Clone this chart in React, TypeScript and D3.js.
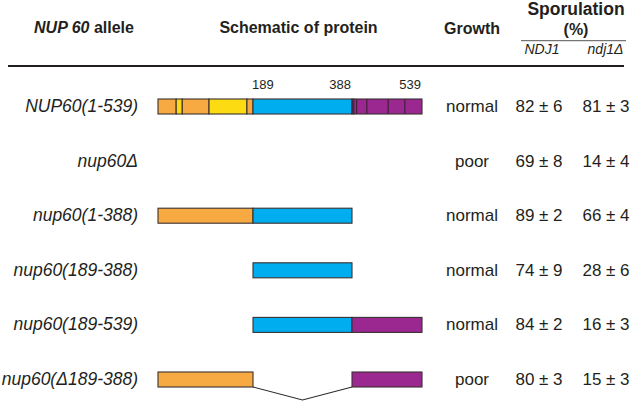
import React from "react";
import * as d3 from "d3";

const alleles = ["NUP60(1-539)", "nup60Δ", "nup60(1-388)", "nup60(189-388)", "nup60(189-539)", "nup60(Δ189-388)"];
const growth = ["normal", "poor", "normal", "normal", "normal", "poor"];
const ndj1Mean = [82, 69, 89, 74, 84, 80];
const ndj1Err = [6, 8, 2, 9, 2, 3];
const ndj1DeltaMean = [81, 14, 66, 28, 16, 15];
const ndj1DeltaErr = [3, 4, 4, 6, 3, 3];

// residue breakpoints labelled on the schematic
const residueBreaks = [1, 189, 388, 539];
const residueLabels = [189, 388, 539];

// full-length protein domains: [from, to, kind]
const fullLengthSegments: [number, number, string][] = [
  [1, 37, "N"], [37, 49, "Y"], [49, 102, "N"], [102, 177, "Y"], [177, 189, "N"],
  [189, 388, "M"], [388, 392, "D"], [392, 539, "C"],
];
const fullLengthMotifLines = [398, 420, 466, 502];

// per-allele segments
const rowSegments: [number, number, string][][] = [
  fullLengthSegments,
  [],
  [[1, 189, "N"], [189, 388, "M"]],
  [[189, 388, "M"]],
  [[189, 388, "M"], [388, 539, "C"]],
  [[1, 189, "N"], [388, 539, "C"]],
];
const rowMotifs: number[][] = [fullLengthMotifLines, [], [], [], [], []];
const rowDeletions: ([number, number] | null)[] = [null, null, null, null, null, [189, 388]];

const colours: Record<string, string> = {
  N: "#F8AA42",
  Y: "#FDDB13",
  M: "#00AEEF",
  C: "#9B2790",
  D: "#4B1E5C",
};

const W = 632, H = 401;
const ink = "#231F20";
const sans = "'Liberation Sans', Arial, Helvetica, sans-serif";

export default function App() {
  const x = d3.scaleLinear().domain(residueBreaks).range([158, 253, 352, 422]);
  const y = d3.scalePoint<string>().domain(alleles).range([106.5, 379.5]);
  const barH = 15;
  const labelX = 138, growthX = 472, ndjX = 539, ndjDX = 606;

  return (
    <svg width={W} height={H} style={{ position: "absolute", left: 0, top: 0, background: "#fff" }} fontFamily={sans}>
      {/* header */}
      <text x={84} y={33} textAnchor="middle" fontSize={16} fontWeight="bold" fill={ink}>
        <tspan fontStyle="italic">NUP 60</tspan> allele
      </text>
      <text x={298.5} y={33} textAnchor="middle" fontSize={16} fontWeight="bold" fill={ink}>Schematic of protein</text>
      <text x={growthX} y={34} textAnchor="middle" fontSize={16} fontWeight="bold" fill={ink}>Growth</text>
      <text x={576} y={15} textAnchor="middle" fontSize={17.5} fontWeight="bold" fill={ink}>Sporulation</text>
      <text x={576} y={35} textAnchor="middle" fontSize={16} fontWeight="bold" fill={ink}>(%)</text>
      <line x1={521} x2={626} y1={40.7} y2={40.7} stroke="#555" strokeWidth={1} />
      <text x={542} y={53.5} textAnchor="middle" fontSize={14} fontStyle="italic" fill={ink}>NDJ1</text>
      <text x={605.5} y={53.5} textAnchor="middle" fontSize={14} fontStyle="italic" fill={ink}>ndj1Δ</text>
      <line x1={8} x2={624} y1={66} y2={66} stroke={ink} strokeWidth={2} />

      {/* residue labels */}
      {residueLabels.map((r, i) => (
        <text key={r} x={x(r)} y={89} fontSize={13} fill={ink}
          textAnchor={i === 0 ? "start" : "end"} dx={-1}>{r}</text>
      ))}

      {alleles.map((a, i) => {
        const cy = y(a)!;
        const top = cy - barH / 2;
        const base = cy + 5.5;
        const del = rowDeletions[i];
        return (
          <g key={a}>
            <text x={labelX} y={base} textAnchor="end" fontSize={17.5} fontStyle="italic" fill={ink}>{a}</text>
            {rowSegments[i].map(([f, t, k], j) => (
              <rect key={j} x={x(f)} y={top} width={x(t) - x(f)} height={barH}
                fill={colours[k]} stroke="#3A3030" strokeWidth={1.1} />
            ))}
            {rowMotifs[i].map((m) => (
              <line key={m} x1={x(m)} x2={x(m)} y1={top} y2={top + barH} stroke="#3A2030" strokeWidth={1.1} />
            ))}
            {del && (
              <polyline
                points={`${x(del[0])},${top + barH} ${(x(del[0]) + x(del[1])) / 2},${top + barH + 13} ${x(del[1])},${top + barH}`}
                fill="none" stroke="#2A2A2A" strokeWidth={1.1} />
            )}
            <text x={growthX} y={base} textAnchor="middle" fontSize={17} fill={ink}>{growth[i]}</text>
            <text x={ndjX} y={base} textAnchor="middle" fontSize={17} fill={ink}>{`${ndj1Mean[i]} ± ${ndj1Err[i]}`}</text>
            <text x={ndjDX} y={base} textAnchor="middle" fontSize={17} fill={ink}>{`${ndj1DeltaMean[i]} ± ${ndj1DeltaErr[i]}`}</text>
          </g>
        );
      })}
    </svg>
  );
}
